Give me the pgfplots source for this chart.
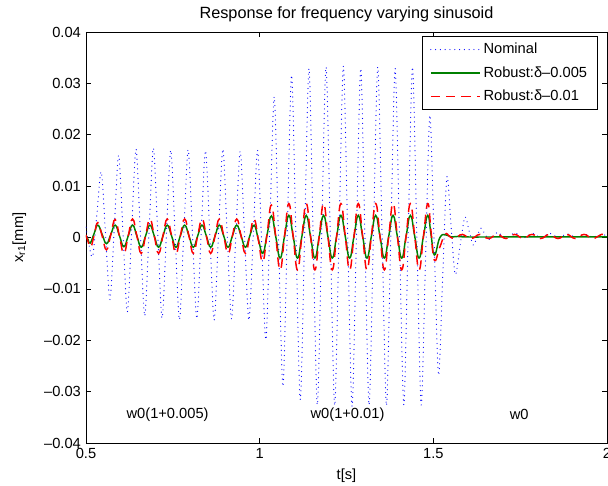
\documentclass[border=0pt]{standalone}
\usepackage{fontspec}
\setmainfont{Liberation Sans}
\usepackage{pgfplots}
\usepackage{pgfplotstable}
\pgfplotsset{compat=1.18}
\usetikzlibrary{calc}
\definecolor{mgreen}{rgb}{0,0.5,0}

% nominal response (peaks, troughs and crossings)
\pgfplotstableread{
t y
0.500 0.0020
0.506 -0.0005
0.519 -0.0037
0.5315 0.0046
0.544 0.0128
0.5565 0.0004
0.569 -0.0121
0.5815 0.0020
0.594 0.0160
0.6065 0.0008
0.619 -0.0145
0.6315 0.0014
0.644 0.0172
0.6565 0.0010
0.669 -0.0153
0.6815 0.0011
0.694 0.0174
0.7065 0.0009
0.719 -0.0157
0.7315 0.0007
0.744 0.0170
0.7565 0.0005
0.769 -0.0160
0.7815 0.0006
0.794 0.0171
0.8065 0.0007
0.819 -0.0158
0.8315 0.0006
0.844 0.0169
0.8565 0.0004
0.869 -0.0161
0.8815 0.0006
0.894 0.0172
0.9065 0.0007
0.919 -0.0159
0.9315 0.0005
0.944 0.0168
0.9565 0.0004
0.969 -0.0161
0.9815 0.0005
0.994 0.0170
1.006 -0.0015
1.018 -0.0199
1.030 0.0038
1.042 0.0274
1.0545 -0.0008
1.067 -0.0290
1.0795 0.0013
1.092 0.0316
1.1045 0.0000
1.117 -0.0316
1.1295 0.0007
1.142 0.0329
1.154 0.0002
1.166 -0.0326
1.1785 0.0003
1.191 0.0332
1.2035 0.0003
1.216 -0.0327
1.2285 0.0004
1.241 0.0334
1.2535 0.0003
1.266 -0.0329
1.2785 0.0000
1.291 0.0329
1.303 0.0002
1.315 -0.0326
1.3275 0.0003
1.340 0.0332
1.3525 0.0003
1.365 -0.0327
1.3775 0.0001
1.390 0.0329
1.4025 0.0002
1.415 -0.0326
1.4275 0.0003
1.440 0.0332
1.4525 0.0003
1.465 -0.0326
1.4775 -0.0044
1.490 0.0238
1.5025 -0.0015
1.515 -0.0268
1.527 -0.0075
1.539 0.0118
1.551 0.0023
1.563 -0.0072
1.577 -0.0016
1.591 0.0040
1.603 0.0013
1.615 -0.0015
1.626 0.0002
1.637 0.0018
1.6485 0.0007
1.660 -0.0004
1.6725 0.0003
1.685 0.0010
1.710 -0.0001
1.735 0.0009
1.760 -0.0001
1.785 0.0008
1.810 0.0000
1.835 0.0008
1.860 0.0000
1.885 0.0007
1.910 0.0001
1.935 0.0006
1.960 0.0001
1.985 0.0006
2.000 0.0003
}\nominal

% robust, delta = 0.005
\pgfplotstableread{
t y
0.500 0.0004
0.506 -0.0004
0.512 -0.0011
0.523 0.0007
0.534 0.0024
0.5465 0.0006
0.559 -0.0012
0.5715 0.0006
0.584 0.0024
0.5965 0.0003
0.609 -0.0018
0.6215 0.0003
0.634 0.0024
0.6465 0.0003
0.659 -0.0019
0.6715 0.0003
0.684 0.0024
0.6965 0.0003
0.709 -0.0019
0.7215 0.0003
0.734 0.0024
0.7465 0.0003
0.759 -0.0019
0.7715 0.0003
0.784 0.0024
0.7965 0.0003
0.809 -0.0019
0.8215 0.0003
0.834 0.0024
0.8465 0.0003
0.859 -0.0019
0.8715 0.0003
0.884 0.0024
0.8965 0.0003
0.909 -0.0019
0.9215 0.0003
0.934 0.0024
0.9465 0.0003
0.959 -0.0019
0.9715 0.0003
0.984 0.0024
0.9965 -0.0004
1.009 -0.0031
1.0215 0.0006
1.034 0.0042
1.0465 0.0001
1.059 -0.0040
1.0715 0.0002
1.084 0.0043
1.0965 0.0002
1.109 -0.0040
1.1215 0.0002
1.134 0.0043
1.1465 0.0002
1.159 -0.0040
1.1715 0.0002
1.184 0.0043
1.1965 0.0002
1.209 -0.0040
1.2215 0.0002
1.234 0.0043
1.2465 0.0002
1.259 -0.0040
1.2715 0.0002
1.284 0.0043
1.2965 0.0002
1.309 -0.0040
1.3215 0.0002
1.334 0.0043
1.3465 0.0002
1.359 -0.0040
1.3715 0.0002
1.384 0.0043
1.3965 0.0002
1.409 -0.0040
1.4215 0.0002
1.434 0.0043
1.4465 0.0002
1.459 -0.0040
1.4715 0.0002
1.484 0.0043
1.4935 0.0005
1.503 -0.0034
1.519 0.0000
1.536 0.0005
1.552 0.0001
1.570 0.0002
1.600 0.0001
1.700 0.0001
2.000 0.0001
}\robustA

% robust, delta = 0.01
\pgfplotstableread{
t y
0.500 0.0005
0.506 -0.0008
0.514 -0.0018
0.524 0.0006
0.534 0.0029
0.5465 0.0003
0.559 -0.0024
0.5715 0.0006
0.584 0.0035
0.5965 0.0002
0.609 -0.0031
0.6215 0.0003
0.634 0.0036
0.6465 0.0003
0.659 -0.0031
0.6715 0.0003
0.684 0.0036
0.6965 0.0003
0.709 -0.0031
0.7215 0.0003
0.734 0.0036
0.7465 0.0003
0.759 -0.0031
0.7715 0.0003
0.784 0.0036
0.7965 0.0003
0.809 -0.0031
0.8215 0.0003
0.834 0.0036
0.8465 0.0003
0.859 -0.0031
0.8715 0.0003
0.884 0.0036
0.8965 0.0003
0.909 -0.0031
0.9215 0.0003
0.934 0.0036
0.9465 0.0003
0.959 -0.0031
0.9715 0.0003
0.984 0.0036
0.9965 -0.0006
1.009 -0.0047
1.0215 0.0008
1.034 0.0063
1.0465 0.0000
1.059 -0.0063
1.0715 0.0002
1.084 0.0066
1.0965 0.0002
1.109 -0.0063
1.1215 0.0002
1.134 0.0066
1.1465 0.0002
1.159 -0.0063
1.1715 0.0002
1.184 0.0066
1.1965 0.0002
1.209 -0.0063
1.2215 0.0002
1.234 0.0066
1.2465 0.0002
1.259 -0.0063
1.2715 0.0002
1.284 0.0066
1.2965 0.0002
1.309 -0.0063
1.3215 0.0002
1.334 0.0066
1.3465 0.0002
1.359 -0.0063
1.3715 0.0002
1.384 0.0066
1.3965 0.0002
1.409 -0.0063
1.4215 0.0002
1.434 0.0066
1.4465 0.0002
1.459 -0.0063
1.4715 0.0002
1.484 0.0066
1.4935 0.0011
1.503 -0.0044
1.518 -0.0020
1.534 0.0006
1.5465 0.0002
1.559 -0.0002
1.5715 0.0002
1.584 0.0006
1.609 -0.0002
1.634 0.0006
1.659 -0.0002
1.684 0.0006
1.709 -0.0002
1.734 0.0006
1.759 -0.0002
1.784 0.0006
1.809 -0.0002
1.834 0.0006
1.859 -0.0002
1.884 0.0006
1.909 -0.0002
1.934 0.0006
1.959 -0.0002
1.984 0.0006
2.000 0.0003
}\robustB

\begin{document}
\fontsize{11}{13}\selectfont
\begin{tikzpicture}
\begin{axis}[name=ax,
    scale only axis, width=390.75pt, height=308.25pt,
    xmin=0.5, xmax=2, ymin=-0.04, ymax=0.04,
    scaled y ticks=false, scaled x ticks=false,
    xtick={0.5,1,1.5,2}, xticklabels={0.5,1,1.5,2},
    ytick={-0.04,-0.03,-0.02,-0.01,0,0.01,0.02,0.03,0.04},
    yticklabels={–0.04,–0.03,–0.02,–0.01,0,0.01,0.02,0.03,0.04},
    tick align=inside, major tick length=3.75pt,
    axis line style={line width=0.6pt},
    every tick/.style={black, line width=0.5pt},
    title={Response for frequency varying sinusoid},
    title style={font=\fontsize{12.2}{14}\selectfont, yshift=-2pt},
    xlabel={t[s]}, ylabel={x\textsubscript{r1}[mm]},
    ylabel shift=6pt,
    legend cell align=left,
    legend image code/.code={\draw[#1] (0pt,0pt) -- (37pt,0pt);},
    legend style={at={(0.983,0.99)}, anchor=north east, draw=black,
        line width=0.6pt, inner xsep=6pt, inner ysep=3pt, row sep=4pt},
  ]
  \addplot[blue, draw=blue, smooth, line width=0.9pt, line cap=round, dash pattern=on 0pt off 3.6pt] table[x=t,y=y] {\nominal};
  \addlegendentry{Nominal}
  \addplot[mgreen, draw=mgreen, smooth, tension=0.8, line width=1.1pt] table[x=t,y=y] {\robustA};
  \addlegendentry{Robust:δ–0.005}
  \addplot[red, draw=red, smooth, tension=0.8, line width=1.1pt, dash pattern=on 7pt off 4.5pt] table[x=t,y=y] {\robustB};
  \addlegendentry{Robust:δ–0.01}
  \node at (axis cs:0.735,-0.0345) {w0(1+0.005)};
  \node at (axis cs:1.253,-0.0345) {w0(1+0.01)};
  \node at (axis cs:1.747,-0.0345) {w0};
\end{axis}
\pgfresetboundingbox
\path ($(ax.south west)+(-64.5pt,-32.25pt)$) rectangle ($(ax.north east)+(0.75pt,24pt)$);
\end{tikzpicture}
\end{document}
